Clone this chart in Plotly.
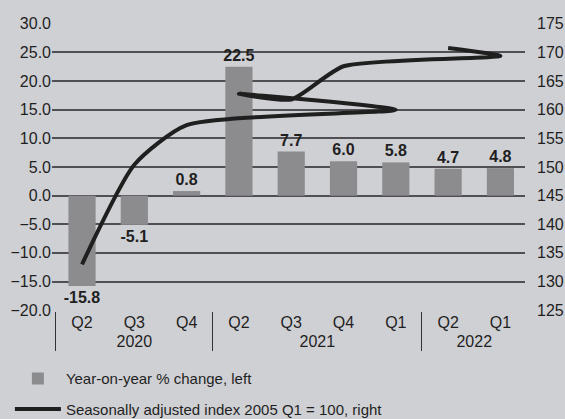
import plotly.graph_objects as go

quarters = ["Q2", "Q3", "Q4", "Q1", "Q2", "Q3", "Q4", "Q1", "Q2"]
years = ["2020", "2020", "2020", "2021", "2021", "2021", "2021", "2022", "2022"]
yoy_change = [-15.8, -5.1, 0.8, 5.8, 22.5, 7.7, 6.0, 4.8, 4.7]
index_sa = [133.0, 150.4, 157.3, 160.0, 162.8, 161.8, 167.6, 169.4, 170.8]

x_multi = [years, quarters]

BG = "#cfd0d4"
FONT = "Liberation Sans, Arial, sans-serif"
INK = "#1f1f1f"
GRID = "#505054"

fig = go.Figure()
fig.add_trace(go.Bar(
    x=x_multi, y=yoy_change, name="Year-on-year % change, left",
    marker=dict(color="#8c8c8e", line=dict(width=0)),
    width=0.52,
    text=[f"{v:.1f}" for v in yoy_change], textposition="outside",
    textfont=dict(family=FONT, size=16, color=INK, weight="bold"),
    constraintext="none",
    cliponaxis=False, legendgroup="a",
))
fig.add_trace(go.Scatter(
    x=x_multi, y=index_sa, yaxis="y2", mode="lines",
    name="Seasonally adjusted index 2005 Q1 = 100, right",
    line=dict(color=INK, width=4, shape="spline", smoothing=0.6),
    legendgroup="b",
))

fig.update_layout(
    template="none",
    width=565, height=419,
    margin=dict(l=52, r=40, t=23, b=108, autoexpand=False),
    paper_bgcolor=BG, plot_bgcolor=BG,
    font=dict(family=FONT, size=16, color=INK),
    showlegend=True,
    legend=dict(x=-0.089, y=-0.178, xanchor="left", yanchor="top",
                orientation="v", traceorder="grouped", tracegroupgap=8,
                itemwidth=46,
                font=dict(family=FONT, size=15, color=INK),
                bgcolor="rgba(0,0,0,0)"),
    xaxis=dict(type="multicategory", range=[-0.574, 8.47],
               showgrid=False, zeroline=False, showline=False, ticks="",
               showdividers=True, dividercolor="#333", dividerwidth=1.2,
               tickfont=dict(family=FONT, size=16, color=INK)),
    yaxis=dict(range=[-20.15, 30.15], dtick=5, tick0=0, tickformat=".1f",
               showgrid=True, gridcolor=GRID, gridwidth=2,
               zeroline=True, zerolinecolor=GRID, zerolinewidth=2,
               showline=False, ticks="",
               tickfont=dict(family=FONT, size=16, color=INK)),
    yaxis2=dict(range=[124.85, 175.15], dtick=5, tick0=125, overlaying="y",
                side="right", showgrid=False,
                zeroline=False, showline=False,
                ticks="", ticklabelstandoff=11,
                tickfont=dict(family=FONT, size=16, color=INK)),
    bargap=0.48,
)

fig.write_html("out.html")
